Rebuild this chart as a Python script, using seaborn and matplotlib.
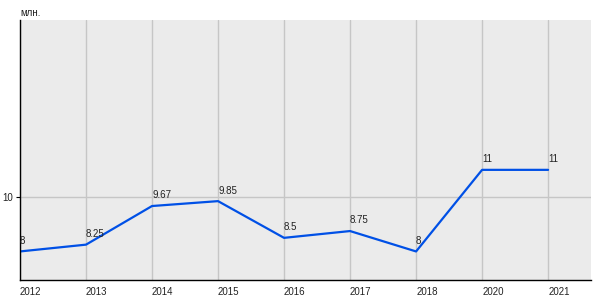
import matplotlib
matplotlib.use("Agg")
import matplotlib.pyplot as plt
import seaborn as sns
import pandas as pd

years = ["2012", "2013", "2014", "2015", "2016", "2017", "2018", "2020", "2021"]
values = [8, 8.25, 9.67, 9.85, 8.5, 8.75, 8, 11, 11]
point_labels = ["8", "8.25", "9.67", "9.85", "8.5", "8.75", "8", "11", "11"]
y_ticks = [10]
unit_label = "млн."

sns.set_theme(style="white")
plt.rcParams["font.family"] = ["Liberation Sans", "DejaVu Sans"]

df = pd.DataFrame({"pos": range(len(years)), "value": values})

fig = plt.figure(figsize=(6, 3), dpi=100)
ax = fig.add_axes([20 / 600, 20 / 300, 571 / 600, 260 / 300])
ax.set_facecolor("#EBEBEB")

sns.lineplot(data=df, x="pos", y="value", ax=ax, color="#0050E6", linewidth=1.6)

ax.set_xlim(0, 8.65)
ax.set_ylim(6.95, 16.51)
ax.set_xticks(range(len(years)))
ax.set_xticklabels(years, ha="left", fontsize=7, color="#222222")
ax.set_yticks(y_ticks)
ax.set_yticklabels([str(t) for t in y_ticks], fontsize=7, color="#222222")
ax.tick_params(axis="x", length=0, pad=5)
ax.tick_params(axis="y", length=3, width=0.8, color="black", pad=2, direction="out", left=True)
ax.grid(True, color="#C6C6C6", linewidth=1)
ax.set_axisbelow(True)
ax.set_xlabel("")
ax.set_ylabel("")

for s in ["top", "right"]:
    ax.spines[s].set_visible(False)
for s in ["left", "bottom"]:
    ax.spines[s].set_color("black")
    ax.spines[s].set_linewidth(1)

for i, (v, lab) in enumerate(zip(values, point_labels)):
    ax.annotate(lab, xy=(i, v), xytext=(0, 4), textcoords="offset points",
                ha="left", va="bottom", fontsize=7, color="#222222")

fig.text(20 / 600, 1 - 13 / 300, unit_label, ha="left", va="center", fontsize=7, color="#222222")

fig.savefig("out.png", dpi=100)
